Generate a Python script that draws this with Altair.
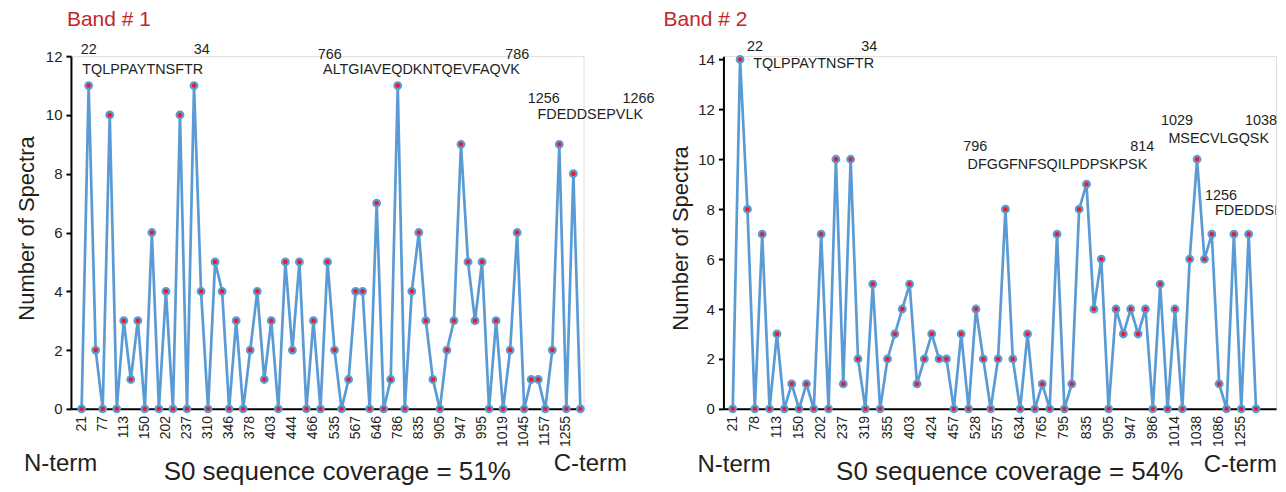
import altair as alt
import pandas as pd

# ---------------- data ----------------
band1_values = [0, 11, 2, 0, 10, 0, 3, 1, 3, 0, 6, 0, 4, 0, 10, 0, 11, 4, 0, 5,
                4, 0, 3, 0, 2, 4, 1, 3, 0, 5, 2, 5, 0, 3, 0, 5, 2, 0, 1, 4,
                4, 0, 7, 0, 1, 11, 0, 4, 6, 3, 1, 0, 2, 3, 9, 5, 3, 5, 0, 3,
                0, 2, 6, 0, 1, 1, 0, 2, 9, 0, 8, 0]
band2_values = [0, 14, 8, 0, 7, 0, 3, 0, 1, 0, 1, 0, 7, 0, 10, 1, 10, 2, 0, 5,
                0, 2, 3, 4, 5, 1, 2, 3, 2, 2, 0, 3, 0, 4, 2, 0, 2, 8, 2, 0,
                3, 0, 1, 0, 7, 0, 1, 8, 9, 4, 6, 0, 4, 3, 4, 3, 4, 0, 5, 0,
                4, 0, 6, 10, 6, 7, 1, 0, 7, 0, 7, 0]
band1_ticks = ["21", "77", "113", "150", "202", "237", "310", "346", "378", "403",
               "444", "466", "535", "567", "646", "786", "835", "905", "947", "995",
               "1019", "1045", "1157", "1255"]
band2_ticks = ["21", "78", "113", "150", "202", "237", "319", "355", "403", "424",
               "457", "528", "557", "634", "765", "795", "835", "905", "947", "986",
               "1014", "1038", "1086", "1255"]

# peptide annotations (text, x position in point-index units, y in spectra units)
band1_ann_text = ["22", "34", "TQLPPAYTNSFTR", "766", "786", "ALTGIAVEQDKNTQEVFAQVK",
                  "1256", "1266", "FDEDDSEPVLK"]
band1_ann_x = [-0.14, 15.97, 0.09, 33.6, 60.3, 34.37, 63.5, 77.0, 64.9]
band1_ann_y = [12.09, 12.09, 11.39, 11.92, 11.92, 11.39, 10.39, 10.39, 9.86]

band2_ann_text = ["22", "34", "TQLPPAYTNSFTR", "796", "814", "DFGGFNFSQILPDPSKPSK",
                  "1029", "1038", "MSECVLGQSK", "1256"]
band2_ann_x = [1.95, 17.45, 2.77, 31.28, 53.92, 31.86, 58.12, 69.5, 59.11, 64.09]
band2_ann_y = [14.32, 14.32, 13.65, 10.32, 10.32, 9.62, 11.39, 11.39, 10.65, 8.38]
# this one runs past the right edge of the figure (cut off, as in the source image)
band2_edge_text = ["FDEDDSEPVLK"]
band2_edge_x = [65.44]
band2_edge_y = [7.77]

band_titles = ["Band # 1", "Band # 2"]
coverage_titles = ["S0 sequence coverage = 51%", "S0 sequence coverage = 54%"]
term_labels = ["N-term", "C-term"]

LINE_BLUE = "#5b9bd5"
DOT_RED = "#ed1c24"
TXT = "#231f20"
BAND_RED = "#c1272d"
FONT = "Liberation Sans"


def text_layer(xs, ys, texts, size, color, clip=False):
    d = pd.DataFrame({"x": xs, "y": ys, "t": texts})
    return alt.Chart(d).mark_text(align="left", baseline="alphabetic", fontSize=size,
                                  font=FONT, color=color, clip=clip).encode(
        x="x:Q", y="y:Q", text="t:N")


def panel(values, ticks, ann, edge, band_title, cov_title,
          xdom, ymax, yticks, width, height, band_pos, term_x, term_y,
          title_x, ytitle_x, ytitle_y):
    df = pd.DataFrame({"idx": list(range(len(values))), "count": values})
    xs = alt.Scale(domain=xdom, nice=False, zero=False)
    ys = alt.Scale(domain=[0, ymax], nice=False, zero=True)
    x = alt.X("idx:Q", scale=xs,
              axis=alt.Axis(labels=False, ticks=False, grid=False, domainColor="black",
                            domainWidth=2,
                            title=cov_title, titleFontSize=26, titleFontWeight="normal",
                            titleFont=FONT, titleColor=TXT,
                            titleX=title_x, titleY=71, titleAlign="center",
                            titleBaseline="alphabetic"))
    y = alt.Y("count:Q", scale=ys,
              axis=alt.Axis(values=yticks, tickSize=5, tickWidth=2, tickColor="black",
                            domainColor="black", domainWidth=2, grid=False,
                            labelFontSize=15, labelFont=FONT,
                            labelColor=TXT, labelPadding=4,
                            title="Number  of Spectra", titleFontSize=22,
                            titleFontWeight="normal", titleFont=FONT,
                            titleColor=TXT, titleAngle=270, titleX=ytitle_x, titleY=ytitle_y,
                            titleAlign="center", titleBaseline="bottom"))
    base = alt.Chart(df)
    line = base.mark_line(color=LINE_BLUE, strokeWidth=2.7).encode(x=x, y=y)
    dots = base.mark_circle(color=DOT_RED, stroke=LINE_BLUE, strokeWidth=2.2,
                            size=44, opacity=1).encode(x="idx:Q", y="count:Q")
    # category tick labels (every third peptide position), rotated
    tick_df = pd.DataFrame({"idx": list(range(0, 3 * len(ticks), 3)),
                            "zero": [0] * len(ticks), "lab": ticks})
    tick_lab = alt.Chart(tick_df).mark_text(angle=270, align="right", baseline="middle",
                                            fontSize=14, font=FONT, color=TXT, dx=-7).encode(
        x="idx:Q", y="zero:Q", text="lab:N")
    layers = [line, dots, tick_lab, text_layer(*ann, 14.4, TXT)]
    if edge is not None:
        layers.append(text_layer(*edge, 14.4, TXT, clip=True))
    layers.append(text_layer([band_pos[0]], [band_pos[1]], [band_title], 21, BAND_RED))
    layers.append(text_layer(term_x, [term_y, term_y], term_labels, 24, TXT))
    return alt.layer(*layers).properties(width=width, height=height)


left = panel(band1_values, band1_ticks,
             (band1_ann_x, band1_ann_y, band1_ann_text), None,
             band_titles[0], coverage_titles[0],
             xdom=[-1.52, 71.45], ymax=12, yticks=list(range(0, 13, 2)),
             width=513, height=353, band_pos=(-2.09, 13.03),
             term_x=[-8.2, 67.2], term_y=-2.13, title_x=266, ytitle_x=-32, ytitle_y=172)

right = panel(band2_values, band2_ticks,
              (band2_ann_x, band2_ann_y, band2_ann_text),
              (band2_edge_x, band2_edge_y, band2_edge_text),
              band_titles[1], coverage_titles[1],
              xdom=[-1.26, 73.71], ymax=14.13, yticks=list(range(0, 15, 2)),
              width=553, height=353, band_pos=(-9.39, 15.32),
              term_x=[-4.78, 63.9], term_y=-2.53, title_x=286, ytitle_x=-31, ytitle_y=182)

chart = alt.hconcat(left, right, spacing=140, bounds="flush").properties(
    padding={"left": 7, "top": 0, "right": 0, "bottom": 0}
).configure_view(strokeWidth=0).configure(background="white")

chart.save("out.html", embed_options={"renderer": "svg", "actions": False})
